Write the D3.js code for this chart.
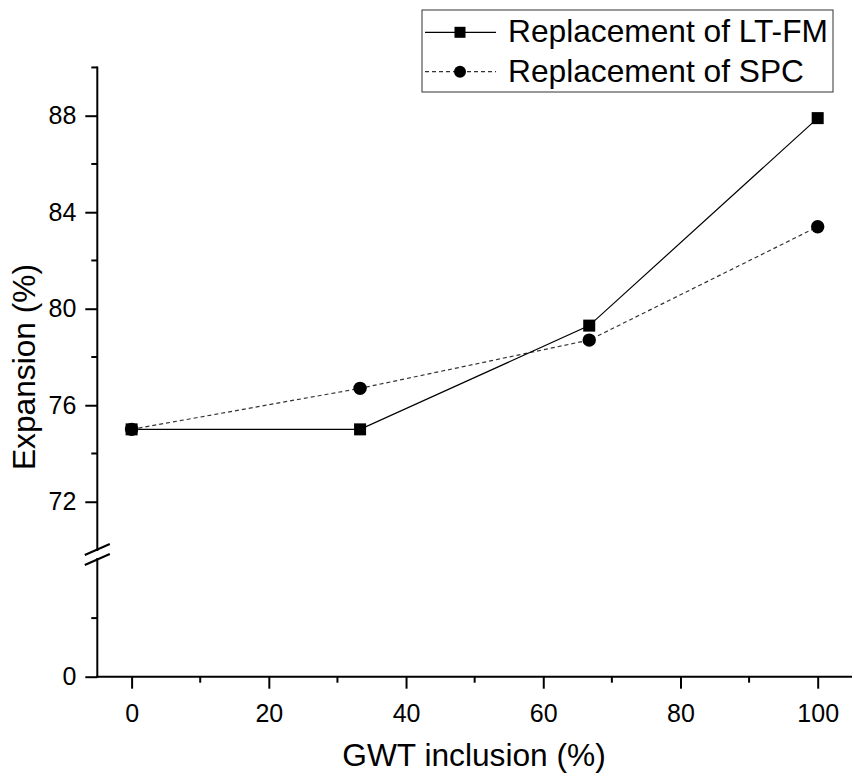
<!DOCTYPE html>
<html>
<head>
<meta charset="utf-8">
<script src="https://cdn.jsdelivr.net/npm/d3@7"></script>
<style>
  html, body { margin: 0; padding: 0; background: #fff; }
  svg { display: block; font-family: "Liberation Sans", Arial, sans-serif; }
</style>
</head>
<body>
<svg id="chart" width="854" height="776"></svg>
<script>
// ---- Data ----
const gwtInclusion = [0, 33.3, 66.7, 100];
const ltfmExpansion = [75.0, 75.0, 79.3, 87.9];
const spcExpansion = [75.0, 76.7, 78.7, 83.4];
const seriesNames = ["Replacement of LT-FM", "Replacement of SPC"];
const xTickValues = [0, 20, 40, 60, 80, 100];
const xMinorTicks = [10, 30, 50, 70, 90];
const yUpperTicks = [72, 76, 80, 84, 88];
const yUpperMinor = [74, 78, 82, 86, 90];
const yLowerTicks = [0];
const yLowerMinor = [35];
const xTitle = "GWT inclusion (%)";
const yTitle = "Expansion (%)";

// ---- Layout ----
const svg = d3.select("#chart");
const axisX = 97.3, axisRight = 852, axisBottom = 676.7;
const x = d3.scaleLinear().domain([-5, 105]).range([axisX, axisRight]);
const yUp = d3.scaleLinear().domain([70, 90]).range([550, 67.45]);
const yLow = d3.scaleLinear().domain([0, 70]).range([axisBottom, 559.5]);
const font = "Liberation Sans, Arial, sans-serif";

// X axis
const gx = svg.append("g").attr("transform", `translate(0,${axisBottom})`);
gx.call(d3.axisBottom(x).tickValues(xTickValues).tickSize(12).tickSizeOuter(0).tickPadding(16).tickFormat(d3.format("d")));
gx.select(".domain").remove();
gx.append("line").attr("x1", axisX - 1).attr("x2", axisRight).attr("y1", 0).attr("y2", 0)
  .attr("stroke", "#000").attr("stroke-width", 2);
gx.selectAll(".tick line").attr("stroke-width", 2);
gx.selectAll(".tick text").attr("font-size", 25).attr("font-family", font).attr("fill", "#000");
gx.selectAll(".minor").data(xMinorTicks).enter().append("line")
  .attr("x1", d => x(d)).attr("x2", d => x(d)).attr("y1", 0).attr("y2", 6)
  .attr("stroke", "#000").attr("stroke-width", 2);

// Y axis upper segment
const gyU = svg.append("g").attr("transform", `translate(${axisX},0)`);
gyU.call(d3.axisLeft(yUp).tickValues(yUpperTicks).tickSize(12).tickSizeOuter(0).tickPadding(9).tickFormat(d3.format("d")));
gyU.select(".domain").remove();
gyU.selectAll(".tick line").attr("stroke-width", 2);
gyU.selectAll(".tick text").attr("font-size", 25).attr("font-family", font).attr("fill", "#000");
gyU.selectAll(".minor").data(yUpperMinor).enter().append("line")
  .attr("x1", -6).attr("x2", 0).attr("y1", d => yUp(d)).attr("y2", d => yUp(d))
  .attr("stroke", "#000").attr("stroke-width", 2);
gyU.append("line").attr("x1", 0).attr("x2", 0).attr("y1", yUp(90) - 1).attr("y2", 551)
  .attr("stroke", "#000").attr("stroke-width", 2);

// Y axis lower segment
const gyL = svg.append("g").attr("transform", `translate(${axisX},0)`);
gyL.call(d3.axisLeft(yLow).tickValues(yLowerTicks).tickSize(12).tickSizeOuter(0).tickPadding(9).tickFormat(d3.format("d")));
gyL.select(".domain").remove();
gyL.selectAll(".tick line").attr("stroke-width", 2);
gyL.selectAll(".tick text").attr("font-size", 25).attr("font-family", font).attr("fill", "#000");
gyL.selectAll(".minor").data(yLowerMinor).enter().append("line")
  .attr("x1", -6).attr("x2", 0).attr("y1", d => yLow(d)).attr("y2", d => yLow(d))
  .attr("stroke", "#000").attr("stroke-width", 2);
gyL.append("line").attr("x1", 0).attr("x2", 0).attr("y1", 558).attr("y2", axisBottom + 1)
  .attr("stroke", "#000").attr("stroke-width", 2);

// Break marks
[549.5, 559.5].forEach(cy => {
  svg.append("line").attr("x1", axisX - 12.5).attr("x2", axisX + 12.5)
    .attr("y1", cy + 5.5).attr("y2", cy - 5.5)
    .attr("stroke", "#000").attr("stroke-width", 2);
});

// Series
const ltfm = gwtInclusion.map((g, i) => ({ x: g, y: ltfmExpansion[i] }));
const spc = gwtInclusion.map((g, i) => ({ x: g, y: spcExpansion[i] }));
const line = d3.line().x(d => x(d.x)).y(d => yUp(d.y));

svg.append("path").datum(spc).attr("d", line).attr("fill", "none")
  .attr("stroke", "#333").attr("stroke-width", 1.2).attr("stroke-dasharray", "4,3");
svg.append("path").datum(ltfm).attr("d", line).attr("fill", "none")
  .attr("stroke", "#000").attr("stroke-width", 1.2);

svg.selectAll(".sq").data(ltfm).enter().append("rect")
  .attr("x", d => x(d.x) - 6).attr("y", d => yUp(d.y) - 6)
  .attr("width", 12).attr("height", 12).attr("fill", "#000");
svg.selectAll(".ci").data(spc).enter().append("circle")
  .attr("cx", d => x(d.x)).attr("cy", d => yUp(d.y)).attr("r", 6.7).attr("fill", "#000");

// Axis titles
svg.append("text").attr("x", 474).attr("y", 766)
  .attr("text-anchor", "middle").attr("font-size", 31.7).attr("font-family", font).text(xTitle);
svg.append("text").attr("transform", "translate(35,367) rotate(-90)")
  .attr("text-anchor", "middle").attr("font-size", 31.7).attr("font-family", font).text(yTitle);

// Legend
const lg = svg.append("g");
lg.append("rect").attr("x", 422).attr("y", 10).attr("width", 411).attr("height", 82)
  .attr("fill", "#fff").attr("stroke", "#333").attr("stroke-width", 1);
const rows = [32.3, 71.7];
lg.append("line").attr("x1", 425).attr("x2", 496).attr("y1", rows[0]).attr("y2", rows[0])
  .attr("stroke", "#000").attr("stroke-width", 1.2);
lg.append("rect").attr("x", 460 - 5.5).attr("y", rows[0] - 5.5).attr("width", 11).attr("height", 11).attr("fill", "#000");
lg.append("line").attr("x1", 425).attr("x2", 496).attr("y1", rows[1]).attr("y2", rows[1])
  .attr("stroke", "#333").attr("stroke-width", 1.2).attr("stroke-dasharray", "4,3");
lg.append("circle").attr("cx", 460).attr("cy", rows[1]).attr("r", 6).attr("fill", "#000");
lg.selectAll(".lt").data(seriesNames).enter().append("text")
  .attr("x", 508).attr("y", (d, i) => rows[i] + 10).attr("font-size", 31.7)
  .attr("font-family", font).text(d => d);
</script>
</body>
</html>
